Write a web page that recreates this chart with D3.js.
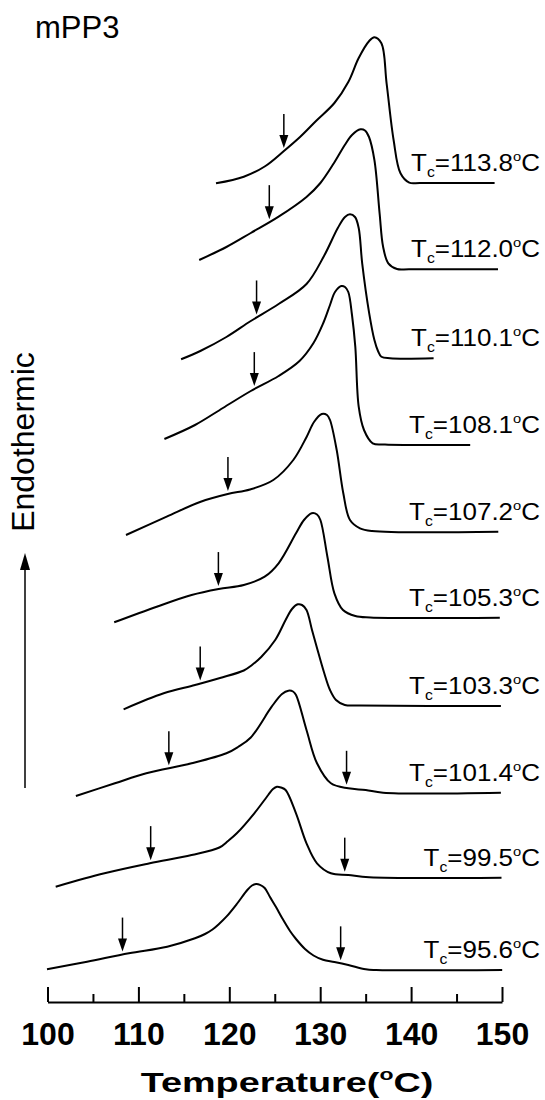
<!DOCTYPE html>
<html><head><meta charset="utf-8">
<script src="https://cdn.jsdelivr.net/npm/d3@7/dist/d3.min.js"></script>
<style>body{margin:0;background:#fff}</style>
</head><body>
<svg id="chart" width="545" height="1100"></svg>
<script>
// Crystallization temperatures (labels), top to bottom
const tcLabels = ["113.8","112.0","110.1","108.1","107.2","105.3","103.3","101.4","99.5","95.6"];

// DSC traces: [temperature °C, heat flow (a.u., stacked)]
const trace113_8 = [[118.537,81.87],[121.595,82.53],[123.894,83.55],[126.007,85.1],[127.778,86.5],[129.538,88.1],[131.562,89.9],[133.091,92.0],[134.235,94.4],[135.390,96.1],[135.962,96.47],[136.733,95.87],[137.305,91.87],[138.075,86.2],[138.834,82.87],[139.802,81.93],[141.0,81.9],[149.186,81.9]];
const trace112_0 = [[116.689,74.2],[119.681,75.5],[122.365,76.9],[125.424,78.53],[128.493,80.5],[130.022,81.9],[131.518,83.9],[132.706,85.7],[133.498,86.7],[134.433,87.27],[134.928,87.15],[135.369,86.5],[135.963,84.2],[136.535,78.87],[136.920,75.53],[137.492,73.87],[138.449,73.3],[139.8,73.28],[149.56,73.28]];
const trace110_1 = [[114.697,64.27],[116.810,65.1],[119.681,66.5],[122.365,68.1],[125.424,69.8],[128.493,71.8],[130.418,74.6],[131.936,77.4],[132.728,78.5],[133.278,78.77],[133.828,78.5],[134.235,77.4],[134.620,73.87],[135.391,68.87],[135.963,66.2],[136.359,65.1],[136.733,64.53],[137.679,64.37],[142.475,64.37]];
const trace108_1 = [[112.860,56.3],[116.227,57.7],[119.296,59.4],[122.365,61.1],[125.424,62.6],[127.723,64.1],[129.263,65.9],[130.341,67.9],[131.078,69.7],[131.628,71.0],[132.321,71.6],[132.728,71.5],[133.091,71.0],[133.498,68.7],[133.861,65.53],[134.235,59.53],[134.818,57.2],[135.776,55.87],[137.129,55.75],[146.502,55.7]];
const trace107_2 = [[108.636,46.7],[113.113,48.53],[116.777,50.0],[119.824,50.8],[122.277,51.25],[124.840,52.2],[127.041,54.2],[128.515,56.53],[129.318,58.0],[130.165,58.8],[130.748,58.7],[131.078,58.2],[131.815,55.2],[132.541,50.87],[133.278,48.2],[134.378,47.37],[135.699,47.1],[149.593,47.03]];
const trace105_3 = [[107.338,37.97],[112.013,39.53],[115.853,40.7],[118.834,41.3],[121.595,41.7],[123.894,42.53],[125.424,43.87],[127.338,46.87],[128.218,48.2],[129.065,48.87],[129.648,48.75],[130.022,48.2],[130.792,44.53],[131.562,40.87],[132.508,39.2],[133.861,38.6],[135.5,38.45],[149.758,38.43]];
const trace103_3 = [[108.372,29.27],[112.783,30.87],[116.227,31.7],[118.977,32.4],[121.595,33.15],[122.497,33.7],[123.509,34.5],[125.050,36.2],[126.194,38.2],[126.898,39.3],[127.536,39.77],[127.998,39.7],[128.493,39.2],[129.098,37.2],[129.648,35.4],[130.407,33.0],[131.078,31.2],[131.738,30.2],[132.706,29.7],[134.378,29.65],[149.879,29.6]];
const trace101_4 = [[103.124,20.6],[107.415,21.87],[110.869,22.87],[115.853,23.87],[119.681,24.87],[120.957,25.5],[122.365,26.45],[124.664,29.53],[125.798,30.8],[126.502,31.13],[127.008,31.05],[127.338,30.7],[128.493,27.2],[129.648,23.87],[131.177,21.87],[133.091,21.37],[135.006,21.2],[136.920,20.93],[149.879,20.93]];
const trace99_5 = [[100.902,11.53],[106.271,12.87],[111.254,13.87],[115.853,14.7],[118.911,15.45],[119.857,16.1],[120.825,16.87],[122.750,18.87],[124.279,20.7],[124.808,21.3],[125.237,21.53],[125.688,21.45],[126.194,21.2],[127.338,18.87],[128.493,15.87],[129.648,13.87],[131.177,12.87],[133.091,12.7],[135.391,12.47],[149.945,12.43]];
const trace95_6 = [[99.945,3.27],[104.356,4.03],[108.955,4.87],[113.168,5.53],[116.227,6.37],[117.327,6.8],[118.152,7.25],[118.867,7.8],[119.681,8.53],[120.825,9.8],[121.980,11.2],[122.497,11.65],[122.937,11.8],[123.377,11.72],[123.894,11.4],[124.477,10.5],[125.138,9.5],[125.809,8.4],[126.678,7.1],[127.338,6.3],[128.328,5.3],[129.263,4.65],[130.308,4.22],[131.562,4.0],[133.091,3.7],[135.006,3.27],[136.161,3.2],[150.022,3.2]];
const traces = [trace113_8, trace112_0, trace110_1, trace108_1, trace107_2, trace105_3, trace103_3, trace101_4, trace99_5, trace95_6];

// Arrow markers (temperature, °C)
const onsetArrows = [126.0, 124.4, 123.0, 122.75, 119.85, 118.8, 116.8, 113.35, 111.35, 108.25];
const endArrows   = [null, null, null, null, null, null, null, 132.9, 132.7, 132.25];

const majorTicks = [100, 110, 120, 130, 140, 150];
const minorTicks = [105, 115, 125, 135, 145];

const svg = d3.select("#chart");
svg.append("rect").attr("width",545).attr("height",1100).attr("fill","#fff");

const x = d3.scaleLinear().domain([100,150]).range([47.5,502]);
const y = d3.scaleLinear().domain([0,97]).range([1002,32]);

const line = d3.line().x(d=>x(d[0])).y(d=>y(d[1])).curve(d3.curveCatmullRom.alpha(0.5));

function valueAt(tr, t){
  for(let i=0;i<tr.length-1;i++){
    const a=tr[i], b=tr[i+1];
    if(t>=a[0] && t<=b[0]){ const f=(t-a[0])/(b[0]-a[0]); return a[1]+f*(b[1]-a[1]); }
  }
  return tr[tr.length-1][1];
}

const g = svg.append("g");
g.selectAll("path.trace").data(traces).join("path")
  .attr("class","trace").attr("d",line)
  .attr("fill","none").attr("stroke","#000").attr("stroke-width",2).attr("stroke-linejoin","round");

function arrow(t, tr){
  const tipY = y(valueAt(tr,t)) - 3;
  const xx = x(t);
  g.append("line").attr("x1",xx).attr("x2",xx).attr("y1",tipY-34).attr("y2",tipY-10)
    .attr("stroke","#000").attr("stroke-width",1.5);
  g.append("path").attr("d",`M${xx-4.5},${tipY-13}L${xx+4.5},${tipY-13}L${xx},${tipY}Z`).attr("fill","#000");
}
traces.forEach((tr,i)=>{
  arrow(onsetArrows[i], tr);
  if(endArrows[i]!=null) arrow(endArrows[i], tr);
});

// Tc labels
traces.forEach((tr,i)=>{
  const yy = y(tr[tr.length-1][1]) - 12;
  const t = svg.append("text")
    .attr("transform",`translate(540,${yy}) scale(1.13,1)`)
    .attr("text-anchor","end")
    .attr("font-family","Liberation Sans, Arial, sans-serif")
    .attr("font-size",23).attr("fill","#000");
  t.append("tspan").text("T");
  t.append("tspan").attr("font-size",14).attr("dy",6).text("c");
  t.append("tspan").attr("dy",-6).text("="+tcLabels[i]);
  t.append("tspan").attr("font-size",13).attr("dy",-10).text("o");
  t.append("tspan").attr("dy",10).text("C");
});

// x axis
const axMaj = d3.axisBottom(x).tickValues(majorTicks).tickSizeInner(-15).tickSizeOuter(0).tickPadding(20).tickFormat(d3.format("d"));
const axG = svg.append("g").attr("transform","translate(0,1002)").call(axMaj);
axG.select(".domain").attr("stroke","#000").attr("stroke-width",2);
axG.selectAll(".tick line").attr("stroke","#000").attr("stroke-width",2);
axG.selectAll(".tick text").attr("font-family","Liberation Sans, Arial, sans-serif")
  .attr("font-size",32).attr("font-weight","bold").attr("fill","#000");
const axMin = d3.axisBottom(x).tickValues(minorTicks).tickSizeInner(-8).tickSizeOuter(0).tickFormat("");
const axG2 = svg.append("g").attr("transform","translate(0,1002)").call(axMin);
axG2.select(".domain").remove();
axG2.selectAll(".tick line").attr("stroke","#000").attr("stroke-width",2);

// axis title
const title = svg.append("text")
  .attr("transform","translate(287,1092) scale(1.35,1)")
  .attr("text-anchor","middle")
  .attr("font-family","Liberation Sans, Arial, sans-serif")
  .attr("font-size",28).attr("font-weight","bold").attr("fill","#000");
title.append("tspan").text("Temperature(");
title.append("tspan").attr("font-size",17).attr("dy",-12).text("o");
title.append("tspan").attr("dy",12).text("C)");

// sample name
svg.append("text").attr("x",35).attr("y",38)
  .attr("font-family","Liberation Sans, Arial, sans-serif").attr("font-size",31).attr("fill","#000")
  .text("mPP3");

// Endothermic arrow + label
svg.append("line").attr("x1",25).attr("x2",25).attr("y1",788).attr("y2",566)
  .attr("stroke","#000").attr("stroke-width",1.5);
svg.append("path").attr("d","M20,570L30,570L25,553Z").attr("fill","#000");
svg.append("text").attr("transform","translate(34,442) rotate(-90)")
  .attr("text-anchor","middle")
  .attr("font-family","Liberation Sans, Arial, sans-serif").attr("font-size",32).attr("fill","#000")
  .text("Endothermic");
</script>
</body></html>
